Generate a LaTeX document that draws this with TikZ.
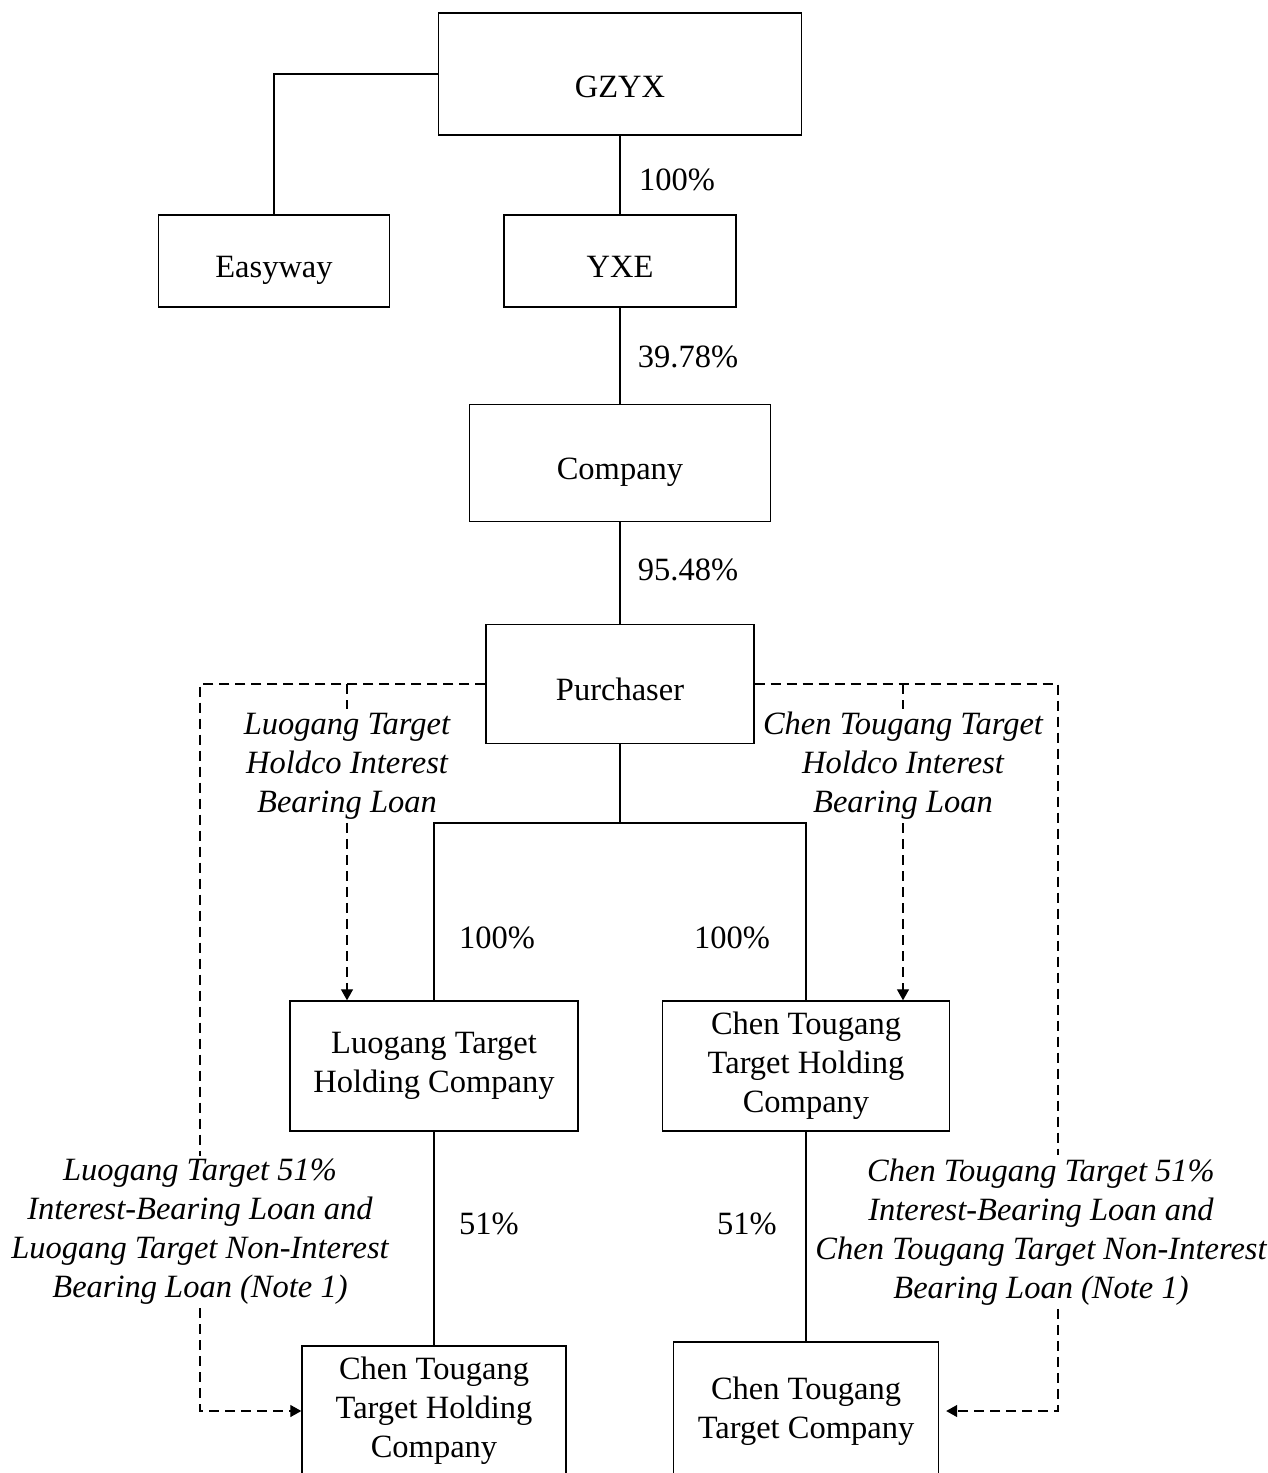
\documentclass[tikz,border=0pt]{standalone}
\usepackage{fontspec}
\setmainfont{Liberation Serif}
\usetikzlibrary{arrows.meta,calc}

\begin{document}
\begin{tikzpicture}[x=1pt,y=1pt,yscale=-1,xscale=1,
		font=\fontsize{32.5}{39}\selectfont, line width=1.4pt,
		box/.style={draw, align=center, inner sep=2pt},
		onebox/.style={box, text height=40pt, text depth=8pt},
		pct/.style={inner sep=0pt},
		loan/.style={dash pattern=on 10pt off 6pt, line width=1.3pt},
		tip/.style={-{Triangle[length=11pt,width=12pt]}},
		loanlbl/.style={align=center, font=\fontsize{32.5}{39}\selectfont\itshape, fill=white, inner sep=3pt}]
		\useasboundingbox (0,0) rectangle (1267,1473);

		% boxes
		\node[box, text height=54pt, text depth=8pt, minimum width=363, minimum height=122] (gzyx) at (620,74) {GZYX};
		\node[onebox, minimum width=231, minimum height=92] (easy) at (274,261) {Easyway};
		\node[onebox, minimum width=232, minimum height=92] (yxe) at (620,261) {YXE};
		\node[onebox, minimum width=301, minimum height=117] (comp) at (620,463) {Company};
		\node[onebox, minimum width=268, minimum height=119] (purch) at (620,684) {Purchaser};
		\node[box, minimum width=288, minimum height=130] (lhc) at (434,1066) {Luogang Target\\Holding Company};
		\node[box, minimum width=287, minimum height=130] (chc) at (806,1066) {Chen Tougang\\Target Holding\\Company};
		\node[box, minimum width=264, minimum height=130] (botl) at (434,1411) {Chen Tougang\\Target Holding\\Company};
		\node[box, minimum width=265, minimum height=138] (botr) at (806,1411) {Chen Tougang\\Target Company};

		% loan labels
		\node[loanlbl] (loanl) at (347,766) {Luogang Target\\Holdco Interest\\Bearing Loan};
		\node[loanlbl] (loanr) at (903,766) {Chen Tougang Target\\Holdco Interest\\Bearing Loan};
		\node[loanlbl] (loanll) at (200,1232) {Luogang Target 51\%\\Interest-Bearing Loan and\\Luogang Target Non-Interest\\Bearing Loan (Note 1)};
		\node[loanlbl] (loanrr) at (1041,1232) {Chen Tougang Target 51\%\\Interest-Bearing Loan and\\Chen Tougang Target Non-Interest\\Bearing Loan (Note 1)};

		\coordinate (split) at (620,823);
		\coordinate (rc) at (1058,1411);

		% shareholding
		\draw (gzyx.west) -| (easy.north);
		\draw (gzyx) -- (yxe);
		\draw (yxe) -- (comp);
		\draw (comp) -- (purch);
		\draw (purch) -- (split);
		\draw (lhc.north) |- (split) -| (chc.north);
		\draw (lhc) -- (botl);
		\draw (chc) -- (botr);

		\node[pct] (p1) at (677,180) {100\%};
		\node[pct] (p2) at (688,357) {39.78\%};
		\node[pct] (p3) at (688,570) {95.48\%};
		\node[pct] (p4) at (497,938) {100\%};
		\node[pct] (p5) at (732,938) {100\%};
		\node[pct] (p6) at (489,1224) {51\%};
		\node[pct] (p7) at (747,1224) {51\%};

		% loans
		\draw[loan] (purch.west) -| (loanll.north);
		\draw[loan,tip] (loanll.south) |- (botl.west);
		\draw[loan] (loanl.north |- purch.west) -- (loanl.north);
		\draw[loan,tip] (loanl.south) -- (loanl.south |- lhc.north);
		\draw[loan] (purch.east) -| (loanrr.north -| rc);
		\draw[loan,tip,shorten >=7pt] (loanrr.south -| rc) -- (rc) -- (botr.east);
		\draw[loan] (loanr.north |- purch.east) -- (loanr.north);
		\draw[loan,tip] (loanr.south) -- (loanr.south |- chc.north);
\end{tikzpicture}
\end{document}
